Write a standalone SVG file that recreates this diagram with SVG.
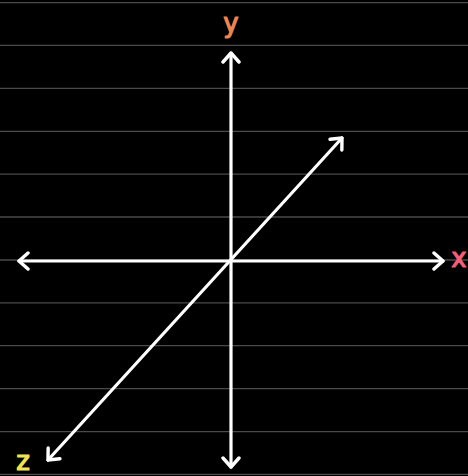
<svg xmlns="http://www.w3.org/2000/svg" width="468" height="476" viewBox="0 0 468 476">
<defs>
<style>
.grid line{stroke:#4a4a4a;stroke-width:1.3}
.axis{stroke:#fff;stroke-width:3.2;stroke-linecap:round;fill:none}
.lbl{font-family:"DejaVu Sans","Liberation Sans",sans-serif;font-size:26px;text-anchor:middle;stroke-width:1.2;stroke-linejoin:round}
</style>
<marker id="chev" viewBox="-12 -10 14 20" markerWidth="14" markerHeight="20" markerUnits="userSpaceOnUse" refX="0" refY="0" orient="auto-start-reverse">
<path d="M-9,-8 L0,0 L-9,8" fill="none" stroke="#fff" stroke-width="3.4" stroke-linecap="round" stroke-linejoin="round"/>
</marker>
</defs>
<rect width="468" height="476" fill="#000"/>
<g class="grid">
<line x1="0" y1="2.6" x2="468" y2="2.6"/>
<line x1="0" y1="45.4" x2="468" y2="45.4"/>
<line x1="0" y1="88.4" x2="468" y2="88.4"/>
<line x1="0" y1="131.3" x2="468" y2="131.3"/>
<line x1="0" y1="174.1" x2="468" y2="174.1"/>
<line x1="0" y1="217" x2="468" y2="217"/>
<line x1="0" y1="260" x2="468" y2="260"/>
<line x1="0" y1="302.8" x2="468" y2="302.8"/>
<line x1="0" y1="345.7" x2="468" y2="345.7"/>
<line x1="0" y1="388.6" x2="468" y2="388.6"/>
<line x1="0" y1="431.6" x2="468" y2="431.6"/>
<line x1="0" y1="474.4" x2="468" y2="474.4"/>
</g>
<g id="connectors">
<line id="y-axis" class="axis" x1="231" y1="53" x2="231" y2="467" marker-start="url(#chev)" marker-end="url(#chev)"/>
<line id="x-axis" class="axis" x1="19" y1="261" x2="443" y2="261" marker-start="url(#chev)" marker-end="url(#chev)"/>
<line id="z-axis" class="axis" x1="48" y1="460" x2="342" y2="138" marker-start="url(#chev)" marker-end="url(#chev)"/>
</g>
<g id="label-y"><text class="lbl" x="231" y="32" font-size="28" fill="#E8875A" stroke="#E8875A">y</text></g>
<g id="label-x"><text class="lbl" x="459" y="267" fill="#F0607A" stroke="#F0607A">x</text></g>
<g id="label-z"><text class="lbl" x="23" y="470" fill="#EDE25A" stroke="#EDE25A">z</text></g>
</svg>
